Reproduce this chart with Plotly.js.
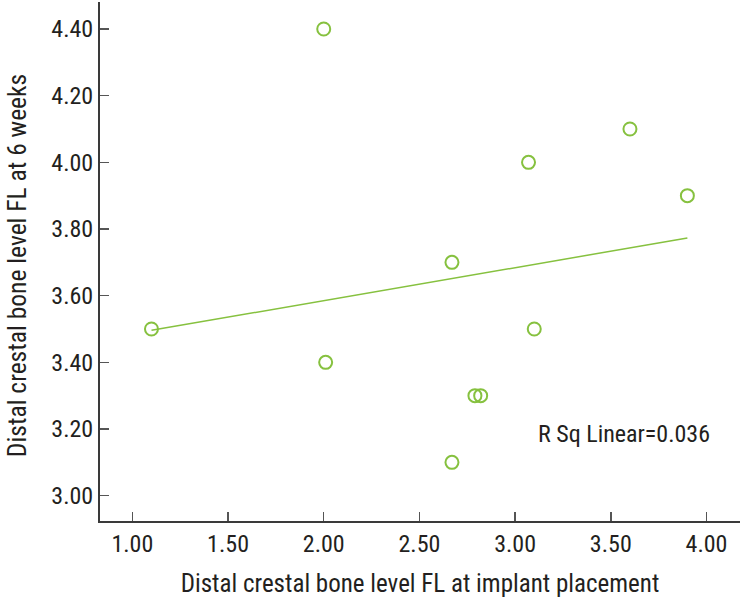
<!DOCTYPE html>
<html>
<head>
<meta charset="utf-8">
<script src="https://cdn.plot.ly/plotly-3.0.1.min.js"></script>
<style>html,body{margin:0;padding:0;background:#fff;}#chart{width:740px;height:602px;}</style>
</head>
<body>
<div id="chart"></div>
<script>
// Data
var implantFL = [1.10, 2.00, 2.01, 2.67, 2.67, 2.79, 2.82, 3.07, 3.10, 3.60, 3.90];
var sixWeekFL = [3.50, 4.40, 3.40, 3.70, 3.10, 3.30, 3.30, 4.00, 3.50, 4.10, 3.90];
var xTitle = "Distal crestal bone level FL at implant placement";
var yTitle = "Distal crestal bone level FL at 6 weeks";
var rsqLabel = "R Sq Linear=0.036";

// least-squares fit computed from the data
var n = implantFL.length, mx = 0, my = 0;
for (var i = 0; i < n; i++) { mx += implantFL[i]; my += sixWeekFL[i]; }
mx /= n; my /= n;
var sxy = 0, sxx = 0;
for (var i = 0; i < n; i++) { sxy += (implantFL[i]-mx)*(sixWeekFL[i]-my); sxx += (implantFL[i]-mx)*(implantFL[i]-mx); }
var slope = sxy/sxx, icpt = my - slope*mx;
var xmin = Math.min.apply(null, implantFL), xmax = Math.max.apply(null, implantFL);
var fitX = [xmin, xmax];
var fitY = fitX.map(function(v){ return icpt + slope*v; });

var green = '#86c13f';
var font = "'Roboto Condensed', Roboto, Arial, sans-serif";
var ink = '#231f20';

var traces = [
  {x: fitX, y: fitY, type: 'scatter', mode: 'lines', line: {color: green, width: 1.5}, hoverinfo: 'skip'},
  {x: implantFL, y: sixWeekFL, type: 'scatter', mode: 'markers',
   marker: {symbol: 'circle-open', size: 13, color: green, line: {width: 2, color: green}}}
];

var layout = {
  width: 740, height: 602,
  margin: {l: 100, r: 0, t: 2, b: 81},
  paper_bgcolor: '#fff', plot_bgcolor: '#fff',
  showlegend: false,
  font: {family: font, color: ink, size: 24},
  xaxis: {
    range: [0.831, 4.175], tick0: 1, dtick: 0.5, tickformat: '.2f',
    showgrid: false, zeroline: false, showline: true, linecolor: '#3a3a3a', linewidth: 2,
    ticks: 'inside', ticklen: 9, tickwidth: 1.5, tickcolor: '#555',
    tickfont: {family: font, size: 24, color: ink},
    title: {text: xTitle, font: {family: font, size: 25, color: ink}, standoff: 18}
  },
  yaxis: {
    range: [2.924, 4.481], tick0: 3, dtick: 0.2, tickformat: '.2f',
    showgrid: false, zeroline: false, showline: true, linecolor: '#3a3a3a', linewidth: 2,
    ticks: 'inside', ticklen: 9, tickwidth: 1.5, tickcolor: '#555',
    tickfont: {family: font, size: 24, color: ink}
  },
  annotations: [{
    x: 3.107, y: 3.185, xref: 'x', yref: 'y', xanchor: 'left', yanchor: 'middle',
    text: rsqLabel, showarrow: false, font: {family: font, size: 24, color: ink}
  }, {
    x: -99.5 / 640, y: 0.492, xref: 'paper', yref: 'paper', xanchor: 'left', yanchor: 'middle',
    text: yTitle, textangle: -90, showarrow: false, borderpad: 0,
    font: {family: font, size: 25.5, color: ink}
  }]
};

Plotly.newPlot('chart', traces, layout, {displayModeBar: false, staticPlot: true});
</script>
</body>
</html>
